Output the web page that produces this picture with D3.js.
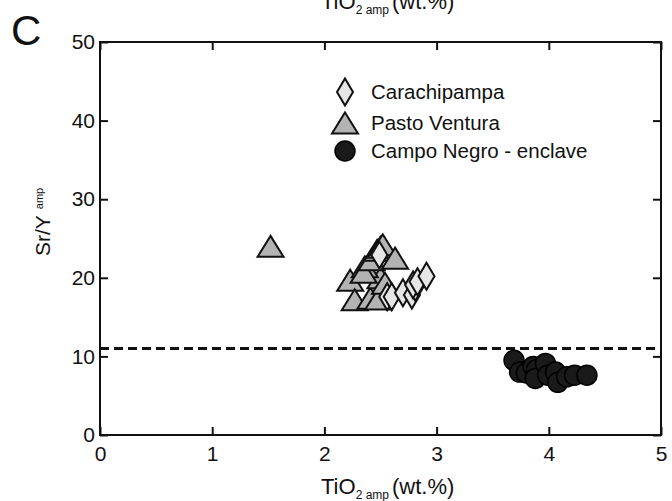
<!DOCTYPE html>
<html>
<head>
<meta charset="utf-8">
<style>
  body { margin: 0; background: #fff; }
  text { font-family: "Liberation Sans", Arial, Helvetica, sans-serif; fill: #111; }
</style>
</head>
<body>
<svg width="672" height="501" class="chart"></svg>
<script src="https://cdn.jsdelivr.net/npm/d3@7/dist/d3.min.js"></script>
<script>
    // series values, [TiO2, Sr/Y]
    var carachipampa = [
        [2.49, 22.9], [2.56, 17.6], [2.60, 17.6], [2.70, 18.1], [2.78, 17.8],
        [2.81, 18.8], [2.79, 19.1], [2.83, 19.5], [2.91, 20.2]
    ]
    var pastoVentura = [
        [1.52, 24.0], [2.23, 19.7], [2.27, 17.2], [2.41, 17.4], [2.48, 17.3],
        [2.50, 20.0], [2.36, 21.4], [2.35, 20.7], [2.42, 22.3], [2.47, 23.5],
        [2.50, 23.9], [2.52, 24.2], [2.63, 22.5], [2.54, 19.3]
    ]
    var campoNegro = [
        [3.69, 9.5], [3.74, 8.0], [3.80, 7.9], [3.86, 8.7], [3.89, 8.3],
        [3.88, 7.2], [3.97, 9.1], [3.99, 7.6], [4.06, 8.0], [4.08, 6.7],
        [4.16, 7.4], [4.23, 7.6], [4.34, 7.6]
    ]
    var legendLabels = ["Carachipampa", "Pasto Ventura", "Campo Negro - enclave"]
    var xTicks = [0, 1, 2, 3, 4, 5]
    var yTicks = [0, 10, 20, 30, 40, 50]
    var threshold = 11

    var svg = d3.select(".chart")
    // plot box (note: "top" is a reserved window global, so p* names)
    var pLeft = 100, pRight = 661, pTop = 42, pBottom = 435

    var x = d3.scaleLinear().domain([0, 5]).range([pLeft, pRight])
    var y = d3.scaleLinear().domain([0, 50]).range([pBottom, pTop])

    // marker shapes, centred on bounding box
    function tri(w, h) { return "M0," + (-h/2) + "L" + (w/2) + "," + (h/2) + "L" + (-w/2) + "," + (h/2) + "Z" }
    function dia(w, h) { return "M0," + (-h/2) + "L" + (w/2) + ",0L0," + (h/2) + "L" + (-w/2) + ",0Z" }

    // axes, ticks pointing inward
    svg.append("g").attr("transform", "translate(0," + pBottom + ")")
        .call(d3.axisBottom(x).tickValues(xTicks).tickFormat(d3.format("d")).tickSize(-8).tickSizeOuter(0).tickPadding(11))
    svg.append("g").attr("transform", "translate(0," + pTop + ")")
        .call(d3.axisTop(x).tickValues(xTicks).tickSize(-8).tickSizeOuter(0).tickFormat(""))
    svg.append("g").attr("transform", "translate(" + pLeft + ",0)")
        .call(d3.axisLeft(y).tickValues(yTicks).tickFormat(d3.format("d")).tickSize(-8).tickSizeOuter(0).tickPadding(5))
    svg.append("g").attr("transform", "translate(" + pRight + ",0)")
        .call(d3.axisRight(y).tickValues(yTicks).tickSize(-8).tickSizeOuter(0).tickFormat(""))
    svg.selectAll(".domain").remove()
    svg.selectAll(".tick line").attr("stroke", "#111").attr("stroke-width", 2)
    svg.selectAll(".tick text").attr("font-size", 21).attr("font-family", "Liberation Sans, Arial, sans-serif").attr("fill", "#111")

    svg.append("rect").attr("x", pLeft).attr("y", pTop).attr("width", pRight - pLeft).attr("height", pBottom - pTop)
        .attr("fill", "none").attr("stroke", "#111").attr("stroke-width", 2)

    // dashed threshold line
    svg.append("line").attr("x1", x(0)).attr("x2", x(5)).attr("y1", y(threshold)).attr("y2", y(threshold))
        .attr("stroke", "#111").attr("stroke-width", 3).attr("stroke-dasharray", "9,5")

    svg.append("g").selectAll("path").data(pastoVentura).enter().append("path")
        .attr("d", tri(26, 21))
        .attr("transform", function(d) { return "translate(" + x(d[0]) + "," + y(d[1]) + ")" })
        .attr("fill", "#b3b3b3").attr("stroke", "#111").attr("stroke-width", 2)
    svg.append("g").selectAll("path").data(carachipampa).enter().append("path")
        .attr("d", dia(16, 27))
        .attr("transform", function(d) { return "translate(" + x(d[0]) + "," + y(d[1]) + ")" })
        .attr("fill", "#e6e6e6").attr("stroke", "#111").attr("stroke-width", 2)
    svg.append("g").selectAll("circle").data(campoNegro).enter().append("circle")
        .attr("cx", function(d) { return x(d[0]) }).attr("cy", function(d) { return y(d[1]) })
        .attr("r", 10).attr("fill", "#1a1a1a").attr("stroke", "#000").attr("stroke-width", 1.5)

    // legend
    var lg = svg.append("g")
    var ly = [92, 123, 151]
    lg.append("path").attr("d", dia(16, 27)).attr("transform", "translate(345," + ly[0] + ")")
        .attr("fill", "#e6e6e6").attr("stroke", "#111").attr("stroke-width", 2)
    lg.append("path").attr("d", tri(26, 21)).attr("transform", "translate(345," + ly[1] + ")")
        .attr("fill", "#b3b3b3").attr("stroke", "#111").attr("stroke-width", 2)
    lg.append("circle").attr("cx", 345).attr("cy", ly[2]).attr("r", 10)
        .attr("fill", "#1a1a1a").attr("stroke", "#000").attr("stroke-width", 1.5)
    lg.selectAll("text").data(legendLabels).enter().append("text")
        .attr("x", 371).attr("y", function(d, i) { return ly[i] + 7 })
        .attr("font-size", 20.5).text(function(d) { return d })

    // axis titles
    function tioTitle(ty) {
        var t = svg.append("text").attr("x", 321).attr("y", ty).attr("font-size", 22)
        t.append("tspan").text("TiO")
        t.append("tspan").attr("font-size", 12).attr("dy", 5).text("2 amp")
        t.append("tspan").attr("dy", -5).attr("dx", 3).text("(wt.%)")
    }
    tioTitle(494)
    tioTitle(9)

    var yl = svg.append("text").attr("transform", "translate(50,256) rotate(-90)").attr("font-size", 21)
    yl.append("tspan").text("Sr/Y")
    yl.append("tspan").attr("font-size", 11).attr("dy", -7).attr("dx", 6).text("amp")

    svg.append("text").attr("x", 11).attr("y", 45).attr("font-size", 42).text("C")
</script>
</body>
</html>
